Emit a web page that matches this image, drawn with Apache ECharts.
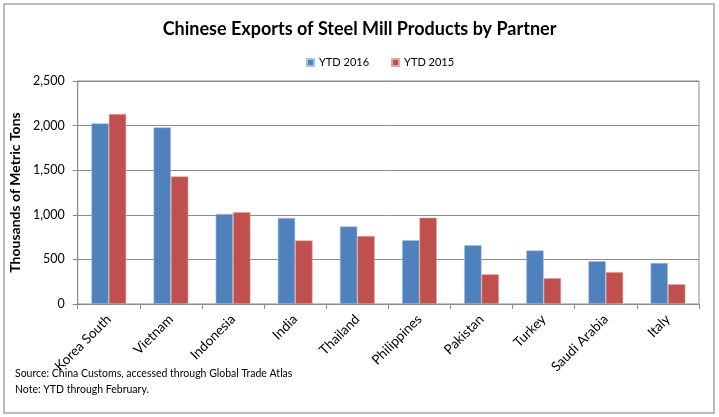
<!DOCTYPE html>
<html>
<head>
<meta charset="utf-8">
<script src="https://cdn.jsdelivr.net/npm/echarts@6/dist/echarts.min.js"></script>
<style>
  html, body { margin: 0; padding: 0; background: #fff; }
  #container { width: 719px; height: 417px; }
</style>
</head>
<body>
<div id="container"></div>
<script>
// data (thousands of metric tons)
var partners = ['Korea South', 'Vietnam', 'Indonesia', 'India', 'Thailand',
    'Philippines', 'Pakistan', 'Turkey', 'Saudi Arabia', 'Italy'];
var ytd2016 = [2025, 1980, 1010, 965, 870, 715, 660, 600, 480, 460];
var ytd2015 = [2130, 1430, 1030, 712, 762, 968, 333, 290, 358, 222];
var yTicks = [0, 500, 1000, 1500, 2000, 2500];

var font = 'Lato, "Open Sans", sans-serif';

var dom = document.getElementById('container');
var myChart = echarts.init(dom);
var option = {
    animation: false,
    textStyle: { fontFamily: font },
    title: [{
        text: 'Chinese Exports of Steel Mill Products by Partner',
        left: 'center',
        top: 15,
        textStyle: { fontFamily: font, fontSize: 18, fontWeight: 'bold', color: '#000' }
    }, {
        text: 'Source: China Customs, accessed through Global Trade Atlas\nNote: YTD through February.',
        left: 10,
        top: 361,
        textStyle: { fontFamily: font, fontSize: 10.5, fontWeight: 'normal', color: '#000', lineHeight: 16 }
    }],
    legend: {
        data: ['YTD 2016', 'YTD 2015'],
        top: 52,
        left: 301,
        itemWidth: 7,
        itemHeight: 7,
        itemGap: 22,
        icon: 'rect',
        textStyle: { fontFamily: font, fontSize: 11, color: '#000' }
    },
    grid: {
        left: 77,
        right: 20,
        top: 81,
        bottom: 113,
        show: true,
        borderColor: '#8c8c8c',
        borderWidth: 1
    },
    xAxis: {
        type: 'category',
        data: partners,
        axisLine: { lineStyle: { color: '#8c8c8c', width: 1 } },
        axisTick: { show: true, alignWithLabel: false, length: 5, lineStyle: { color: '#8c8c8c' } },
        axisLabel: {
            interval: 0,
            rotate: 45,
            fontSize: 13.5,
            color: '#000',
            fontFamily: font,
            margin: 13
        }
    },
    yAxis: {
        type: 'value',
        min: yTicks[0],
        max: yTicks[yTicks.length - 1],
        interval: 500,
        name: 'Thousands of Metric Tons',
        nameLocation: 'middle',
        nameGap: 47,
        nameTextStyle: { fontFamily: font, fontSize: 14, fontWeight: 'bold', color: '#000' },
        axisLine: { show: true, lineStyle: { color: '#8c8c8c', width: 1 } },
        axisTick: { show: true, length: 5, lineStyle: { color: '#8c8c8c' } },
        splitLine: { lineStyle: { color: '#8c8c8c', width: 1 } },
        axisLabel: {
            fontSize: 12.5,
            color: '#000',
            fontFamily: font,
            margin: 13,
            formatter: function (v) { return v.toLocaleString('en-US'); }
        }
    },
    series: [{
        name: 'YTD 2016',
        type: 'bar',
        data: ytd2016,
        barGap: '0%',
        barCategoryGap: '44%',
        itemStyle: { color: '#4f81bd', borderColor: '#a7c0de', borderWidth: 0.6 }
    }, {
        name: 'YTD 2015',
        type: 'bar',
        data: ytd2015,
        itemStyle: { color: '#c0504d', borderColor: '#e0a7a6', borderWidth: 0.6 }
    }],
    graphic: [{
        type: 'rect',
        silent: true,
        z: -1,
        shape: { x: 4, y: 4, width: 710, height: 409 },
        style: { fill: 'none', stroke: '#a6a6a6', lineWidth: 1.5 }
    }]
};
myChart.setOption(option);
</script>
</body>
</html>
